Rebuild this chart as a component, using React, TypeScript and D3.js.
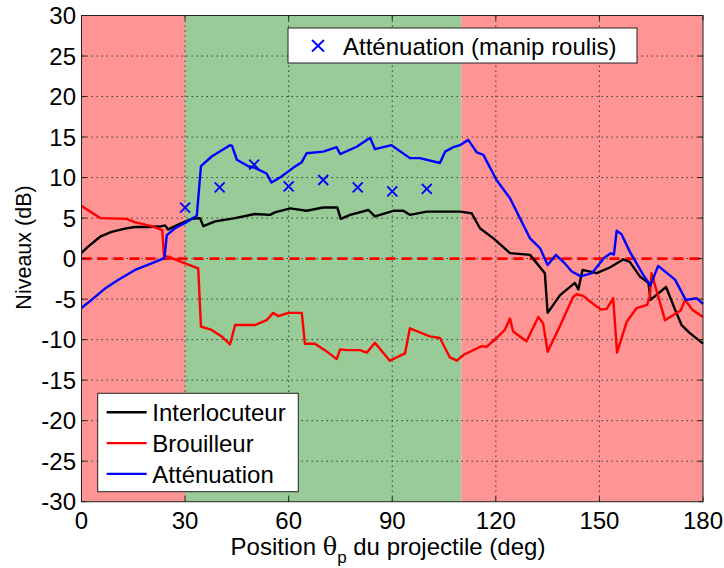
import React from "react";
import * as d3 from "d3";

const interlocuteur: [number, number][] = [
  [0, 0.7], [2, 1.5], [5.4, 2.7], [8.7, 3.3], [12.6, 3.7], [15.4, 3.9], [19.3, 3.9], [23.2, 4.0], [24.2, 4.1], [25.1, 3.6], [28, 4.2], [31.9, 4.9], [34.3, 5.0], [35.3, 4.0], [38.7, 4.6], [44.5, 5.0], [50.2, 5.5], [54.6, 5.4], [56, 5.7], [60.4, 6.2], [65.2, 5.9], [70, 6.3], [74.1, 6.3], [75.1, 4.9], [77.8, 5.4], [83.1, 6.0], [85, 5.2], [90.3, 5.9], [93.2, 5.9], [95.1, 5.4], [100, 5.8], [109.6, 5.8], [113, 5.6], [115.4, 3.75], [119.3, 2.5], [124.1, 0.67], [129.9, 0.46], [134.2, -1.8], [135, -6.7], [138.6, -4.5], [142.9, -3.0], [143.9, -3.8], [145.1, -1.4], [149.2, -1.8], [153, -1.1], [156.9, -0.1], [158.8, -0.4], [161.7, -2.2], [164.2, -3.0], [164.8, -5.1], [169.3, -3.5], [171.9, -6.3], [173.8, -8.2], [176.2, -9.2], [180, -10.5],
];

const brouilleur: [number, number][] = [
  [0, 6.5], [2.5, 5.8], [5.4, 5.0], [13.1, 4.9], [15.4, 4.5], [20.3, 4.0], [23.4, 3.5], [23.9, 0.3], [25.1, 0.25], [30, -0.6], [33.8, -1.2], [34.6, -8.4], [37.7, -8.8], [40.6, -9.6], [43, -10.6], [44.5, -8.2], [50.2, -8.2], [53.6, -7.6], [55.5, -6.7], [57, -7.1], [59.9, -6.7], [63.8, -6.7], [64.7, -10.5], [67.6, -10.5], [70.5, -11.3], [73.9, -12.4], [74.9, -11.2], [76.8, -11.3], [80.7, -11.3], [82.6, -11.6], [85, -10.4], [89.3, -12.6], [93.7, -11.7], [95.1, -8.6], [98, -9.1], [100.9, -9.6], [103.8, -9.8], [106.7, -12.2], [108.7, -12.6], [110.6, -11.9], [112.5, -11.5], [115.9, -10.8], [117.3, -10.9], [120.2, -9.8], [122.6, -8.8], [124.1, -7.4], [125, -9.0], [128.9, -10.2], [132.3, -7.2], [133.7, -8.0], [135, -11.5], [138.6, -8.3], [142.4, -4.7], [143.4, -4.4], [145.3, -4.6], [147.3, -5.3], [150.4, -6.3], [152.1, -6.2], [154, -4.9], [155.1, -11.6], [157.9, -7.8], [160.8, -6.1], [163.8, -5.7], [164.6, -4.7], [165.1, -1.8], [169, -7.6], [173.5, -6.4], [174.8, -5.1], [176.9, -6.3], [180, -7.2],
];

const attenuation: [number, number][] = [
  [0, -6.1], [2.9, -5.1], [6.8, -3.7], [10.7, -2.6], [15.5, -1.4], [20.3, -0.6], [24, 0.05], [24.7, 2.9], [27.1, 3.75], [30, 4.4], [33.4, 5.3], [34.6, 11.4], [37.7, 12.6], [43, 14.0], [43.6, 13.9], [45, 12.2], [48.3, 11.4], [50.2, 11.2], [53.6, 10.5], [55, 9.4], [57.5, 10.0], [61.3, 11.2], [63.8, 11.9], [65.2, 13.0], [70, 13.2], [73.9, 13.75], [74.9, 12.9], [79.7, 13.8], [83.6, 14.9], [85, 13.5], [89.8, 14.0], [95.1, 12.4], [98, 12.4], [103.8, 11.8], [105.3, 13.2], [107.7, 13.75], [109.6, 14.0], [112, 14.65], [114.5, 13.1], [116.4, 12.8], [120.2, 9.7], [124.1, 7.45], [129.9, 2.5], [132.8, 1.3], [135, -0.8], [137.4, 0.46], [140, -0.6], [142, -1.6], [144.6, -2.2], [147.8, -1.8], [151.4, 0.1], [153.3, 0.67], [154.2, 0.5], [155, 3.45], [156.4, 3.0], [158.8, 0.86], [162.7, -2.0], [164.8, -3.3], [167, -0.9], [171.9, -2.6], [175, -5.1], [178.2, -4.9], [180, -5.6],
];

const manipAngles = [30, 40, 50, 60, 70, 80, 90, 100];
const manipValues = [6.3, 8.8, 11.6, 8.9, 9.7, 8.8, 8.3, 8.6];

const xTicks = [0, 30, 60, 90, 120, 150, 180];
const yTicks = [-30, -25, -20, -15, -10, -5, 0, 5, 10, 15, 20, 25, 30];

const zones: { from: number; to: number; kind: "bad" | "good" }[] = [
  { from: 0, to: 30, kind: "bad" },
  { from: 30, to: 110, kind: "good" },
  { from: 110, to: 180, kind: "bad" },
];

const legendItems = [
  { label: "Interlocuteur", color: "#000000" },
  { label: "Brouilleur", color: "#ff0000" },
  { label: "Atténuation", color: "#0000ff" },
];

export default function App() {
  const W = 724;
  const H = 568;
  const L = 81.5, R = 703, T = 15.5, B = 501.7;
  const x = d3.scaleLinear().domain([0, 180]).range([L, R]);
  const y = d3.scaleLinear().domain([-30, 30]).range([B, T]);
  const line = d3
    .line<[number, number]>()
    .x((d) => x(d[0]))
    .y((d) => y(d[1]));
  const font = "'Liberation Sans', Arial, sans-serif";
  const series = [
    { data: interlocuteur, color: "#000000" },
    { data: brouilleur, color: "#ff0000" },
    { data: attenuation, color: "#0000ff" },
  ];
  return (
    <svg
      width={W}
      height={H}
      style={{ position: "absolute", left: 0, top: 0, background: "#fff" }}
      fontFamily={font}
    >
      {zones.map((z, i) => (
        <rect
          key={i}
          x={x(z.from)}
          y={T}
          width={x(z.to) - x(z.from)}
          height={B - T}
          fill={z.kind === "good" ? "#99cb99" : "#ff9494"}
        />
      ))}
      {xTicks.slice(1, -1).map((t) => (
        <line key={"gx" + t} x1={x(t)} x2={x(t)} y1={T} y2={B} stroke="#3a3a3a" strokeWidth={1} strokeDasharray="1.5,3.5" />
      ))}
      {yTicks.slice(1, -1).map((t) => (
        <line key={"gy" + t} x1={L} x2={R} y1={y(t)} y2={y(t)} stroke="#3a3a3a" strokeWidth={1} strokeDasharray="1.5,3.5" />
      ))}
      <line x1={L} x2={R} y1={y(0)} y2={y(0)} stroke="#ff0000" strokeWidth={2.6} strokeDasharray="10,6" />
      {series.map((s, i) => (
        <path key={i} d={line(s.data) || ""} fill="none" stroke={s.color} strokeWidth={2.4} strokeLinejoin="round" />
      ))}
      {manipAngles.map((a, i) => {
        const cx = x(a), cy = y(manipValues[i]);
        const r = 5;
        return (
          <g key={"m" + i} stroke="#0000ff" strokeWidth={1.8}>
            <line x1={cx - r} y1={cy - r} x2={cx + r} y2={cy + r} />
            <line x1={cx - r} y1={cy + r} x2={cx + r} y2={cy - r} />
          </g>
        );
      })}
      <rect x={L} y={T} width={R - L} height={B - T} fill="none" stroke="#222" strokeWidth={1} />
      {xTicks.map((t) => (
        <g key={"tx" + t} stroke="#222" strokeWidth={1}>
          <line x1={x(t)} x2={x(t)} y1={B} y2={B - 5} />
          <line x1={x(t)} x2={x(t)} y1={T} y2={T + 5} />
        </g>
      ))}
      {yTicks.map((t) => (
        <g key={"ty" + t} stroke="#222" strokeWidth={1}>
          <line x1={L} x2={L + 5} y1={y(t)} y2={y(t)} />
          <line x1={R} x2={R - 5} y1={y(t)} y2={y(t)} />
        </g>
      ))}
      {xTicks.map((t) => (
        <text key={"lx" + t} x={x(t)} y={528.5} textAnchor="middle" fontSize={24} fill="#000">
          {t}
        </text>
      ))}
      {yTicks.map((t) => (
        <text key={"ly" + t} x={76} y={y(t) + 8.5} textAnchor="end" fontSize={24} fill="#000">
          {t}
        </text>
      ))}
      <text x={0} y={0} transform="translate(31,247.5) rotate(-90)" textAnchor="middle" fontSize={21.5} fill="#000">
        Niveaux (dB)
      </text>
      <text x={388} y={555} textAnchor="middle" fontSize={24} fill="#000">
        Position <tspan fontFamily="'DejaVu Serif', serif">θ</tspan>
        <tspan fontSize={17} dy={8}>p</tspan>
        <tspan dy={-8}> du projectile (deg)</tspan>
      </text>
      {/* top legend */}
      <rect x={288} y={28} width={349} height={35} fill="#fff" stroke="#222" strokeWidth={1} />
      <g stroke="#0000ff" strokeWidth={1.8}>
        <line x1={312} y1={40} x2={324} y2={51.5} />
        <line x1={312} y1={51.5} x2={324} y2={40} />
      </g>
      <text x={343} y={55} fontSize={24} fill="#000">
        Atténuation (manip roulis)
      </text>
      {/* bottom legend */}
      <rect x={97.7} y={393.3} width={200.6} height={98.4} fill="#fff" stroke="#222" strokeWidth={1} />
      {legendItems.map((it, i) => {
        const ly = 412.3 + i * 30.8;
        return (
          <g key={it.label}>
            <line x1={106.7} x2={146.7} y1={ly} y2={ly} stroke={it.color} strokeWidth={2.4} />
            <text x={152.3} y={ly + 8.6} fontSize={24} fill="#000">
              {it.label}
            </text>
          </g>
        );
      })}
    </svg>
  );
}
